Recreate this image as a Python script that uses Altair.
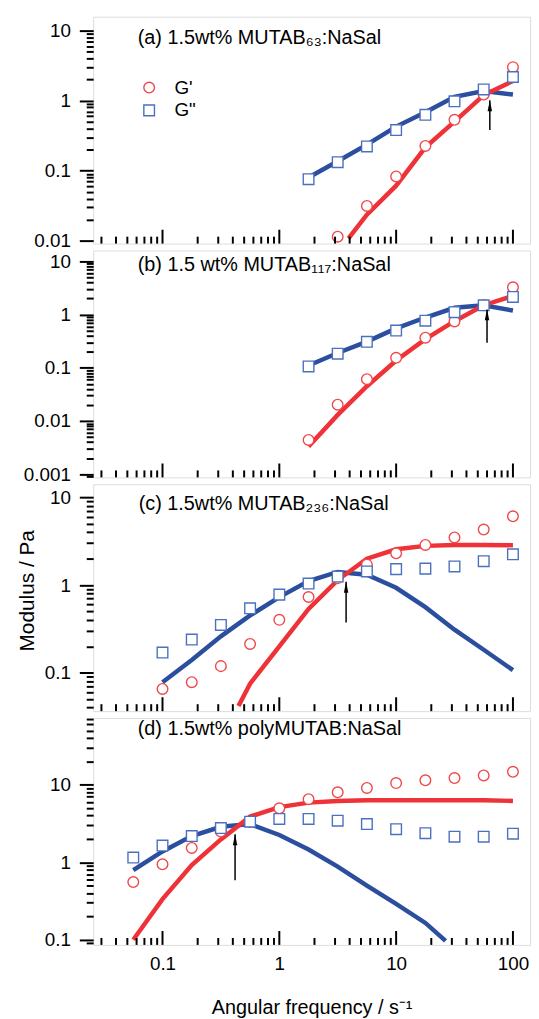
import altair as alt
import pandas as pd

FONT = "Liberation Sans"

RED_PT = "#f0474b"
BLUE_PT = "#4a70c0"
RED_LN = "#ee3237"
BLUE_LN = "#2c4e9e"

# ---------------- data ----------------
FREQ = [0.0562, 0.1, 0.178, 0.316, 0.562, 1.0, 1.78, 3.16, 5.62, 10.0, 17.8, 31.6, 56.2, 100.0]

# (a)
A_GP_X = [3.16, 5.62, 10.0, 17.8, 31.6, 56.2, 100.0]
A_GP = [0.0114, 0.0314, 0.0827, 0.225, 0.531, 1.22, 3.0]
A_GPP_X = [1.78, 3.16, 5.62, 10.0, 17.8, 31.6, 56.2, 100.0]
A_GPP = [0.0755, 0.132, 0.222, 0.379, 0.627, 0.977, 1.44, 2.17]
A_FGP_X = [3.91, 5.62, 10.0, 17.8, 31.6, 56.2, 100.0]
A_FGP = [0.0108, 0.0235, 0.061, 0.215, 0.5, 1.2, 1.9]
A_FGPP_X = [1.78, 3.16, 5.62, 10.0, 17.8, 31.6, 56.2, 100.0]
A_FGPP = [0.08, 0.136, 0.235, 0.425, 0.68, 1.13, 1.37, 1.22]

# (b)
B_X = [1.78, 3.16, 5.62, 10.0, 17.8, 31.6, 56.2, 100.0]
B_GP = [0.0044, 0.0202, 0.061, 0.154, 0.367, 0.745, 1.5, 3.25]
B_GPP = [0.106, 0.184, 0.308, 0.50, 0.767, 1.11, 1.49, 2.15]
B_FGP = [0.0033, 0.013, 0.045, 0.137, 0.346, 0.75, 1.5, 2.25]
B_FGPP = [0.11, 0.19, 0.31, 0.55, 0.88, 1.34, 1.49, 1.19]

# (c)
C_X = [0.1, 0.178, 0.316, 0.562, 1.0, 1.78, 3.16, 5.62, 10.0, 17.8, 31.6, 56.2, 100.0]
C_GP = [0.0653, 0.078, 0.119, 0.213, 0.401, 0.731, 1.2, 1.71, 2.30, 2.87, 3.49, 4.30, 6.09]
C_GPP = [0.170, 0.239, 0.351, 0.543, 0.778, 1.04, 1.25, 1.43, 1.52, 1.54, 1.63, 1.87, 2.24]
C_FGP_X = [0.447, 0.562, 1.0, 1.78, 3.16, 5.62, 10.0, 17.8, 31.6, 56.2, 100.0]
C_FGP = [0.0418, 0.075, 0.2, 0.535, 1.14, 2.0, 2.56, 2.8, 2.87, 2.87, 2.85]
C_FGPP = [0.078, 0.14, 0.26, 0.45, 0.73, 1.11, 1.41, 1.31, 0.93, 0.56, 0.31, 0.183, 0.107]

# (d)
D_X = FREQ
D_GP = [0.556, 0.94, 1.53, 2.49, 3.3, 4.96, 6.52, 7.98, 9.1, 10.5, 11.4, 12.2, 13.2, 14.7]
D_GPP = [1.15, 1.64, 2.18, 2.76, 3.34, 3.62, 3.62, 3.44, 3.11, 2.67, 2.37, 2.14, 2.14, 2.34]
D_FGP = [0.1, 0.335, 0.92, 1.97, 3.88, 5.15, 5.88, 6.18, 6.31, 6.31, 6.31, 6.31, 6.31, 6.18]
D_FGPP_X = [0.0562, 0.1, 0.178, 0.316, 0.562, 1.0, 1.78, 3.16, 5.62, 10.0, 17.8, 26.5]
D_FGPP = [0.79, 1.38, 2.18, 2.87, 3.11, 2.25, 1.46, 0.88, 0.50, 0.29, 0.165, 0.0966]

# crossover arrows: frequency, tip, tail
ARROW_F = [63.4, 60.0, 3.73, 0.418]
ARROW_TIP = [1.01, 1.25, 1.09, 2.29]
ARROW_TAIL = [0.38, 0.294, 0.374, 0.585]

TITLES = [
    "(a) 1.5wt% MUTAB\u2086\u2083:NaSal",
    "(b) 1.5 wt% MUTAB\u2081\u2081\u2087:NaSal",
    "(c) 1.5wt% MUTAB\u2082\u2083\u2086:NaSal",
    "(d) 1.5wt% polyMUTAB:NaSal",
]
LEGEND_LABELS = ["G'", 'G"']
X_LABELS = [0.1, 1, 10, 100]
X_TITLE = "Angular frequency / s\u207b\u00b9"
Y_TITLE = "Modulus / Pa"

# axis ranges
X_DOMAIN = [0.0255, 140]
Y_DOMAINS = [[0.0091, 15.7], [0.00087, 16.0], [0.0365, 14.1], [0.0859, 72.5]]
TITLE_POS = [(45, 21), (45, 14.5), (46, 20), (45, 11.5)]

W = 441
H = 229

TEST = "abs(log(datum.value)/LN10 - round(log(datum.value)/LN10)) < 0.01"


def ticks_between(lo, hi):
    out = []
    for e in range(-4, 3):
        for m in range(1, 10):
            v = round(m * 10 ** e, 8)
            if lo <= v <= hi:
                out.append(v)
    return out


X_MAJOR = [0.1, 1.0, 10.0, 100.0]
X_MINOR = [v for v in ticks_between(*X_DOMAIN) if v not in X_MAJOR]

xs = alt.Scale(type="log", domain=X_DOMAIN, nice=False)


def panel(i, gp_x, gp, gpp_x, gpp, fgp_x, fgp, fgpp_x, fgpp, legend=False, xaxis=False, ytitle=None):
    ys = alt.Scale(type="log", domain=Y_DOMAINS[i], nice=False)
    yaxis_kw = dict(
        values=ticks_between(*Y_DOMAINS[i]),
        tickSize={"condition": {"test": TEST, "value": 14}, "value": 7},
        tickWidth=2, tickColor="black", domain=False, grid=False,
        labelExpr=f"({TEST}) ? format(datum.value, '~g') : ''",
        labelFontSize=19, labelPadding=9, labelColor="black", labelFont=FONT,
        labelOverlap=False, labelFlush=False, labelBound=False,
        title=ytitle,
    )
    if ytitle:
        yaxis_kw.update(titleFontSize=21, titleFontWeight="normal", titleFont=FONT,
                        titleColor="black", titlePadding=7, titleY=107)
    yaxis = alt.Axis(**yaxis_kw)
    if xaxis:
        xax = alt.Axis(values=X_LABELS, ticks=False, domain=False, grid=False,
                       labelExpr="format(datum.value, '~g')", labelFontSize=19,
                       labelPadding=10, labelColor="black", labelFont=FONT,
                       labelFlush=False, labelOverlap=False,
                       title=X_TITLE, titleFontSize=20, titleFontWeight="normal",
                       titleFont=FONT, titleColor="black", titlePadding=24)
    else:
        xax = None

    X = alt.X("f:Q", scale=xs, axis=xax)
    Y = alt.Y("v:Q", scale=ys, axis=yaxis)

    blue_line = alt.Chart(pd.DataFrame({"f": fgpp_x, "v": fgpp})).mark_line(
        color=BLUE_LN, strokeWidth=4.5, clip=True).encode(x=X, y=Y)
    red_line = alt.Chart(pd.DataFrame({"f": fgp_x, "v": fgp})).mark_line(
        color=RED_LN, strokeWidth=4.5, clip=True).encode(x=X, y=Y)

    pts = pd.DataFrame({
        "f": list(gp_x) + list(gpp_x),
        "v": list(gp) + list(gpp),
        "s": [LEGEND_LABELS[0]] * len(gp) + [LEGEND_LABELS[1]] * len(gpp),
    })
    if legend:
        leg = alt.Legend(title=None, orient="none", legendX=47, legendY=62,
                         labelFontSize=19, labelFont=FONT, labelColor="black",
                         symbolSize=115, symbolStrokeWidth=1.4, symbolFillColor="white",
                         labelOffset=16, rowPadding=3)
    else:
        leg = None
    points = alt.Chart(pts).mark_point(filled=False, fill="white", size=115,
                                       strokeWidth=1.4, opacity=1, clip=True).encode(
        x=X, y=Y,
        color=alt.Color("s:N", scale=alt.Scale(domain=LEGEND_LABELS, range=[RED_PT, BLUE_PT]), legend=leg),
        shape=alt.Shape("s:N", scale=alt.Scale(domain=LEGEND_LABELS, range=["circle", "square"]), legend=leg),
        order=alt.Order("s:N", sort="descending"),
    )

    adf = pd.DataFrame({"f": [ARROW_F[i]], "v": [ARROW_TIP[i]], "v2": [ARROW_TAIL[i]]})
    shaft = alt.Chart(adf).mark_rule(color="black", strokeWidth=1.5).encode(x=X, y=Y, y2="v2:Q")
    head = alt.Chart(adf).mark_point(shape="M0,0L-0.45,2.2L0.45,2.2Z", size=100, filled=True,
                                     color="black", opacity=1, strokeWidth=0).encode(x=X, y=Y)

    maj = alt.Chart(pd.DataFrame({"f": X_MAJOR})).mark_rule(color="black", strokeWidth=2).encode(
        x=X, y=alt.value(H), y2=alt.value(H - 14))
    mnr = alt.Chart(pd.DataFrame({"f": X_MINOR})).mark_rule(color="black", strokeWidth=2).encode(
        x=X, y=alt.value(H), y2=alt.value(H - 7))

    tx, ty = TITLE_POS[i]
    title = alt.Chart(pd.DataFrame({"t": [TITLES[i]]})).mark_text(
        align="left", baseline="middle", fontSize=20, font=FONT, color="black").encode(
        x=alt.value(tx), y=alt.value(ty), text="t:N")

    return alt.layer(blue_line, red_line, points, shaft, head, maj, mnr, title).properties(
        width=W, height=H)


pa = panel(0, A_GP_X, A_GP, A_GPP_X, A_GPP, A_FGP_X, A_FGP, A_FGPP_X, A_FGPP, legend=True)
pb = panel(1, B_X, B_GP, B_X, B_GPP, B_X, B_FGP, B_X, B_FGPP)
pc = panel(2, C_X, C_GP, C_X, C_GPP, C_FGP_X, C_FGP, C_X, C_FGPP, ytitle=Y_TITLE)
pd_ = panel(3, D_X, D_GP, D_X, D_GPP, D_X, D_FGP, D_FGPP_X, D_FGPP, xaxis=True)

chart = alt.vconcat(pa, pb, pc, pd_, spacing=7, bounds="flush").resolve_scale(
    y="independent", color="independent", shape="independent"
).properties(
    padding={"left": 8, "right": 0, "top": 3, "bottom": 0}
).configure_view(
    stroke="black", strokeWidth=2.5
).configure(font=FONT, background="white")

chart.save("out.html", embed_options={"renderer": "svg", "actions": False})
